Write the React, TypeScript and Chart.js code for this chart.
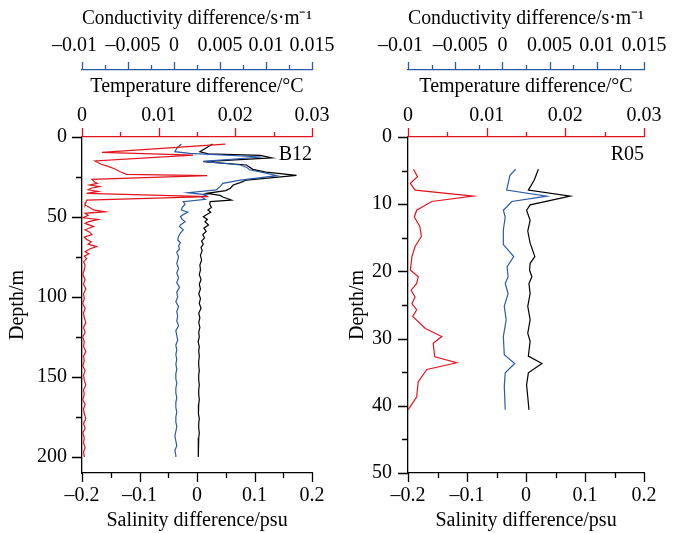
import React, { useEffect, useRef } from "react";
import { Chart, registerables } from "chart.js";

Chart.register(...registerables);

const FONT_FAMILY = '"Liberation Serif", "Times New Roman", Times, serif';
const FONT_SIZE = 20;
const RED = "#e3141e";
const BLUE = "#2b5aa8";
const BLACK = "#000000";

// ---------- axis ticks ----------
const salinityTickValues = [-0.2, -0.1, 0, 0.1, 0.2];
const salinityTickLabels = ["–0.2", "–0.1", "0", "0.1", "0.2"];
const salinityMinorTicks = [-0.15, -0.05, 0.05, 0.15];
const temperatureTickValues = [0, 0.01, 0.02, 0.03];
const temperatureTickLabels = ["0", "0.01", "0.02", "0.03"];
const temperatureMinorTicks = [0.005, 0.015, 0.025];
const conductivityTickValues = [-0.01, -0.005, 0, 0.005, 0.01, 0.015];
const conductivityTickLabels = ["–0.01", "–0.005", "0", "0.005", "0.01", "0.015"];
const conductivityMinorTicks = [-0.0075, -0.0025, 0.0025, 0.0075, 0.0125];
const b12DepthTickValues = [0, 50, 100, 150, 200];
const b12DepthTickLabels = ["0", "50", "100", "150", "200"];
const b12DepthMinorTicks = [25, 75, 125, 175];
const r05DepthTickValues = [0, 10, 20, 30, 40, 50];
const r05DepthTickLabels = ["0", "10", "20", "30", "40", "50"];
const r05DepthMinorTicks = [5, 15, 25, 35, 45];

// ---------- B12 ----------
const b12TempDepth = [4.4, 9.6, 11.3, 15.0, 17.0, 18.5, 20.0, 21.7, 23.3, 24.2, 26.5, 28.0, 29.0, 30.0, 31.0, 32.0, 33.0, 34.0, 35.2, 37.3, 39.4, 41.0, 42.5, 44.0, 45.6, 46.7, 47.7, 49.0, 50.5, 51.5, 53.0, 54.0, 56.0, 57.0, 58.0, 59.5, 61.0, 62.5, 64.0, 65.5, 67.0, 68.5, 70.0, 71.7, 73.0, 74.5, 76.0, 78, 80, 83, 86, 89, 92, 95, 98, 101, 104, 107, 110, 113, 116, 119, 122, 125, 128, 131, 134, 137, 140, 143, 146, 149, 152, 155, 158, 161, 164, 167, 170, 173, 176, 179, 182, 185, 188, 191, 194, 197, 200];
const b12TempValue = [0.0187, 0.0026, 0.0145, 0.0017, 0.0025, 0.0035, 0.0043, 0.005, 0.0058, 0.0163, 0.0013, 0.0016, 0.002, 0.001, 0.0023, 0.0012, 0.0008, 0.0021, 0.0006, 0.0165, 0.0006, 0.0005, 0.0004, 0.001, 0.0015, 0.003, 0.0004, 0.0008, 0.0001, 0.0021, 0.0008, 0.0004, 0.0015, 0.0009, 0.0004, 0.001, 0.0013, 0.0003, 0.0006, 0.0012, 0.0008, 0.0019, 0.001, 0.0004, 0.0009, 0.0003, 0.0006, 0.0002, 0.0004, 0.0003, 0.0001, 0.0004, 0.0002, 0.0005, 0.0002, 0.0003, 0.0001, 0.0004, 0.0002, 0.0003, 0.0005, 0.0002, 0.0004, 0.0001, 0.0003, 0.0002, 0.0005, 0.0002, 0.0003, 0.0001, 0.0004, 0.0002, 0.0003, 0.0005, 0.0002, 0.0003, 0.0001, 0.0004, 0.0002, 0.0003, 0.0005, 0.0002, 0.0004, 0.0001, 0.0003, 0.0002, 0.0004, 0.0002, 0.0003];

const b12CondDepth = [4.4, 7.0, 9.2, 10.2, 12.5, 15.2, 17.5, 19.0, 20.5, 22.0, 24.2, 26.9, 28.0, 29.0, 31.0, 33.0, 34.8, 36.2, 37.5, 39.0, 40.4, 42.0, 44.0, 45.6, 47.0, 48.5, 49.8, 51.5, 53.0, 55.0, 56.0, 58.0, 60.0, 62.0, 64.4, 66, 68, 70, 72, 75, 79, 82, 85, 88, 91, 94, 97, 100, 103, 106, 109, 112, 115, 118, 121, 124, 127, 130, 133, 136, 139, 142, 145, 148, 151, 154, 157, 160, 163, 166, 169, 172, 175, 178, 181, 184, 187, 190, 193, 196, 199, 200];
const b12CondValue = [0.0008, 0.0003, 0.0001, 0.0017, 0.0095, 0.0032, 0.0072, 0.0079, 0.0082, 0.0095, 0.0112, 0.0072, 0.0062, 0.0053, 0.005, 0.0046, 0.0015, 0.0036, 0.003, 0.0034, 0.001, 0.0012, 0.0009, 0.0008, 0.0015, 0.001, 0.0007, 0.0009, 0.0012, 0.0007, 0.0006, 0.001, 0.0007, 0.0005, 0.0004, 0.0007, 0.0005, 0.0006, 0.0003, 0.0005, 0.0003, 0.0005, 0.0003, 0.0005, 0.0003, 0.0006, 0.0003, 0.0004, 0.0002, 0.0005, 0.0003, 0.0004, 0.0003, 0.0005, 0.0002, 0.0003, 0.0004, 0.0002, 0.0003, 0.0002, 0.0003, 0.0002, 0.0003, 0.0002, 0.0002, 0.0003, 0.0002, 0.0002, 0.0003, 0.0002, 0.0002, 0.0003, 0.0002, 0.0002, 0.0003, 0.0002, 0.0001, 0.0002, 0.0003, 0.0001, 0.0002, 0.0002];

const b12SalDepth = [4.4, 7.0, 9.2, 10.5, 11.5, 13.0, 15.4, 17.5, 20.2, 22.0, 24.0, 26.9, 28.5, 30.0, 32.0, 33.5, 35.2, 36.5, 37.5, 39.4, 40.4, 42.0, 44.0, 45.6, 47.0, 48.5, 49.8, 51.5, 53.0, 55.0, 57.0, 59.0, 61.0, 63.0, 65.0, 67.0, 69.0, 71.0, 74, 77, 80, 83, 86, 89, 92, 95, 98, 101, 104, 107, 110, 113, 116, 119, 122, 125, 128, 131, 134, 137, 140, 143, 146, 149, 152, 155, 158, 161, 164, 167, 170, 173, 176, 179, 182, 185, 188, 191, 194, 197, 200];
const b12SalValue = [0.027, 0.015, 0.005, 0.02, 0.11, 0.13, 0.011, 0.086, 0.097, 0.12, 0.173, 0.086, 0.075, 0.063, 0.058, 0.05, 0.017, 0.04, 0.045, 0.06, 0.023, 0.022, 0.025, 0.019, 0.024, 0.017, 0.011, 0.018, 0.014, 0.02, 0.012, 0.016, 0.01, 0.013, 0.008, 0.011, 0.007, 0.009, 0.006, 0.008, 0.005, 0.006, 0.004, 0.007, 0.004, 0.006, 0.003, 0.006, 0.004, 0.007, 0.003, 0.005, 0.003, 0.005, 0.003, 0.004, 0.002, 0.004, 0.003, 0.004, 0.003, 0.003, 0.004, 0.003, 0.003, 0.004, 0.003, 0.003, 0.004, 0.003, 0.002, 0.003, 0.004, 0.003, 0.003, 0.004, 0.003, 0.002, 0.003, 0.002, 0.002];

// ---------- R05 ----------
const r05TempDepth = [4.8, 5.9, 6.9, 7.9, 8.8, 9.6, 10.9, 11.9, 13.3, 14.8, 16.3, 17.8, 19.8, 20.8, 21.8, 22.8, 23.8, 24.8, 25.7, 26.7, 28.5, 29.7, 30.7, 32.7, 33.6, 34.6, 36.4, 38.7, 40.6];
const r05TempValue = [0.0007, 0.0012, 0.0003, 0.0009, 0.0083, 0.003, 0.0011, 0.0008, 0.0015, 0.0017, 0.0009, 0.0005, 0.0003, 0.0013, 0.0011, 0.0004, 0.0009, 0.0005, 0.0011, 0.0006, 0.0022, 0.0043, 0.0032, 0.0034, 0.0062, 0.0024, 0.0013, 0.0011, 0.0];

const r05CondDepth = [4.8, 5.7, 7.9, 8.8, 9.6, 10.9, 11.9, 13.8, 16.0, 17.8, 19.3, 20.8, 21.8, 23.3, 25.2, 27.2, 29.7, 32.4, 33.7, 35.1, 37.1, 40.6];
const r05CondValue = [0.0014, 0.0008, 0.00045, 0.0047, 0.001, 0.0001, 0.0003, 0.0001, 0.0001, 0.0012, 0.0005, 0.0006, 0.0003, 0.0006, 0.0002, 0.0004, 0.0001, 0.0002, 0.0013, 0.0003, 0.0002, 0.0003];

const r05SalDepth = [4.8, 6.4, 7.9, 8.8, 10.1, 10.9, 12.4, 14.0, 15.8, 17.8, 18.8, 19.8, 20.8, 21.8, 23.3, 25.2, 27.2, 29.2, 30.4, 32.6, 33.7, 35.1, 36.9, 38.7, 40.6];
const r05SalValue = [0.021, 0.014, 0.004, 0.075, 0.007, 0.001, 0.007, 0.003, 0.007, 0.015, 0.007, 0.006, 0.01, 0.005, 0.007, 0.003, 0.007, 0.003, 0.007, 0.004, 0.027, 0.004, 0.001, 0.003, 0.005];

const toPoints = (depth: number[], values: number[]) =>
  depth.map((d, i) => ({ x: values[i], y: d }));

type PanelProps = {
  station: string;
  yMax: number;
  yTicks: number[];
  yLabels: string[];
  yMinor: number[];
  yWidth: number;
  yLabelPad: number;
  rightPad: number;
  temp: { x: number; y: number }[];
  cond: { x: number; y: number }[];
  sal: { x: number; y: number }[];
};

function condLabel(i: number) {
  const t = conductivityTickLabels[i];
  if (i === 0) return t + "   ";
  if (i === 1) return "  " + t;
  return t;
}

const noPad = (s: any) => {
  s.paddingLeft = 0;
  s.paddingRight = 0;
  s.paddingTop = 0;
  s.paddingBottom = 0;
};

function Panel(p: PanelProps) {
  const ref = useRef<HTMLCanvasElement>(null);
  useEffect(() => {
    const canvas = ref.current as HTMLCanvasElement;
    const font = { family: FONT_FAMILY, size: FONT_SIZE };

    const tickPlugin = {
      id: "panelTicks",
      afterDraw(chart: any) {
        const { ctx, chartArea, scales } = chart;
        ctx.save();
        ctx.lineWidth = 1.3;
        const vTicks = (scale: any, vals: number[], y0: number, dir: number, len: number, color: string) => {
          ctx.strokeStyle = color;
          ctx.beginPath();
          vals.forEach((v) => {
            const x = Math.round(scale.getPixelForValue(v)) + 0.5;
            ctx.moveTo(x, y0);
            ctx.lineTo(x, y0 + dir * len);
          });
          ctx.stroke();
        };
        const yS = scales.y;
        ctx.strokeStyle = BLACK;
        ctx.beginPath();
        p.yTicks.forEach((v) => {
          const y = Math.round(yS.getPixelForValue(v)) + 0.5;
          ctx.moveTo(chartArea.left, y);
          ctx.lineTo(chartArea.left - 10, y);
        });
        p.yMinor.forEach((v) => {
          const y = Math.round(yS.getPixelForValue(v)) + 0.5;
          ctx.moveTo(chartArea.left, y);
          ctx.lineTo(chartArea.left - 6, y);
        });
        ctx.stroke();
        vTicks(scales.xSal, salinityTickValues, chartArea.bottom, 1, 9, BLACK);
        vTicks(scales.xSal, salinityMinorTicks, chartArea.bottom, 1, 5, BLACK);
        vTicks(scales.xTemp, temperatureTickValues, chartArea.top, -1, 9, RED);
        vTicks(scales.xTemp, temperatureMinorTicks, chartArea.top, -1, 5, RED);
        vTicks(scales.xCond, conductivityTickValues, scales.xCond.bottom, -1, 8, BLUE);
        vTicks(scales.xCond, conductivityMinorTicks, scales.xCond.bottom, -1, 5, BLUE);

        ctx.fillStyle = BLACK;
        ctx.font = `${FONT_SIZE}px ${FONT_FAMILY}`;
        ctx.textAlign = "right";
        ctx.textBaseline = "middle";
        ctx.fillText(p.station, chartArea.right, chartArea.top + 18);
        ctx.restore();
      },
    };

    const chart = new Chart(canvas, {
      type: "scatter",
      data: {
        datasets: [
          { label: "Temperature", data: p.temp, xAxisID: "xTemp", yAxisID: "y", showLine: true, borderColor: RED, borderWidth: 1.2, pointRadius: 0, fill: false },
          { label: "Conductivity", data: p.cond, xAxisID: "xCond", yAxisID: "y", showLine: true, borderColor: BLUE, borderWidth: 1.2, pointRadius: 0, fill: false },
          { label: "Salinity", data: p.sal, xAxisID: "xSal", yAxisID: "y", showLine: true, borderColor: BLACK, borderWidth: 1.2, pointRadius: 0, fill: false },
        ],
      },
      options: {
        animation: false,
        responsive: false,
        maintainAspectRatio: false,
        layout: { padding: { left: 0, top: 0, bottom: 0, right: p.rightPad } },
        plugins: { legend: { display: false }, tooltip: { enabled: false } },
        scales: {
          y: {
            type: "linear",
            position: "left",
            reverse: true,
            min: 0,
            max: p.yMax,
            afterBuildTicks: (s: any) => { s.ticks = p.yTicks.map((v) => ({ value: v })); },
            afterFit: (s: any) => { s.width = p.yWidth; noPad(s); },
            grid: { display: false, drawTicks: false },
            border: { display: true, color: BLACK, width: 1.3 },
            ticks: { padding: p.yLabelPad, color: BLACK, font, autoSkip: false, callback: (_v: any, i: number) => p.yLabels[i] },
            title: { display: true, text: "Depth/m", color: BLACK, font, padding: { top: 6, bottom: 0 } },
          },
          xSal: {
            type: "linear",
            position: "bottom",
            min: -0.2,
            max: 0.2,
            afterBuildTicks: (s: any) => { s.ticks = salinityTickValues.map((v) => ({ value: v })); },
            afterFit: (s: any) => { s.height = 60; noPad(s); },
            grid: { display: false, drawTicks: false },
            border: { display: true, color: BLACK, width: 1.3 },
            ticks: { padding: 11, color: BLACK, font, autoSkip: false, maxRotation: 0, minRotation: 0, callback: (_v: any, i: number) => salinityTickLabels[i] },
            title: { display: true, text: "Salinity difference/psu", color: BLACK, font, padding: { top: 0, bottom: 0 } },
          },
          xTemp: {
            type: "linear",
            position: "top",
            weight: 1,
            min: 0,
            max: 0.03,
            afterBuildTicks: (s: any) => { s.ticks = temperatureTickValues.map((v) => ({ value: v })); },
            afterFit: (s: any) => { s.height = 67; noPad(s); },
            grid: { display: false, drawTicks: false },
            border: { display: true, color: RED, width: 1.3 },
            ticks: { padding: 9, color: BLACK, font, autoSkip: false, maxRotation: 0, minRotation: 0, callback: (_v: any, i: number) => temperatureTickLabels[i] },
            title: { display: true, text: "Temperature difference/°C", color: BLACK, font, padding: { top: 5, bottom: 0 } },
          },
          xCond: {
            type: "linear",
            position: "top",
            weight: 2,
            min: -0.01,
            max: 0.015,
            afterBuildTicks: (s: any) => { s.ticks = conductivityTickValues.map((v) => ({ value: v })); },
            afterFit: (s: any) => { s.height = 70; noPad(s); },
            grid: { display: false, drawTicks: false },
            border: { display: true, color: BLUE, width: 1.3 },
            ticks: { padding: 12, color: BLACK, font, autoSkip: false, maxRotation: 0, minRotation: 0, callback: (_v: any, i: number) => condLabel(i) },
            title: { display: true, text: "Conductivity difference/s·m⁻¹", color: BLACK, font, padding: { top: 7, bottom: 0 } },
          },
        },
      } as any,
      plugins: [tickPlugin],
    } as any);
    return () => chart.destroy();
  }, []);
  return <canvas ref={ref} width={340} height={533} style={{ display: "block", width: 340, height: 533 }} />;
}

export default function App() {
  return (
    <div style={{ position: "fixed", left: 0, top: 0, width: 680, height: 533, display: "flex", background: "#fff" }}>
      <Panel
        station="B12"
        yMax={210}
        yTicks={b12DepthTickValues}
        yLabels={b12DepthTickLabels}
        yMinor={b12DepthMinorTicks}
        yWidth={82}
        yLabelPad={15}
        rightPad={28}
        temp={toPoints(b12TempDepth, b12TempValue)}
        cond={toPoints(b12CondDepth, b12CondValue)}
        sal={toPoints(b12SalDepth, b12SalValue)}
      />
      <Panel
        station="R05"
        yMax={50}
        yTicks={r05DepthTickValues}
        yLabels={r05DepthTickLabels}
        yMinor={r05DepthMinorTicks}
        yWidth={68}
        yLabelPad={16}
        rightPad={36}
        temp={toPoints(r05TempDepth, r05TempValue)}
        cond={toPoints(r05CondDepth, r05CondValue)}
        sal={toPoints(r05SalDepth, r05SalValue)}
      />
    </div>
  );
}
